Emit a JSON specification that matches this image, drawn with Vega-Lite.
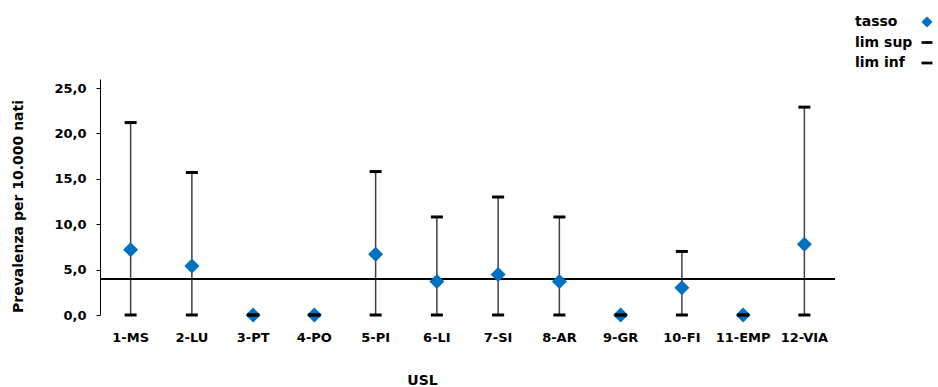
{
  "$schema": "https://vega.github.io/schema/vega-lite/v6.json",
  "width": 735,
  "height": 236,
  "autosize": {"type": "none"},
  "padding": {"left": 100, "top": 79, "right": 103, "bottom": 72},
  "background": "white",
  "config": {
    "view": {"stroke": null},
    "font": "DejaVu Sans",
    "axis": {"labelFont": "DejaVu Sans", "titleFont": "DejaVu Sans", "labelFontWeight": "bold", "titleFontWeight": "bold", "labelColor": "black", "titleColor": "black", "grid": false}
  },
  "data": {
    "values": [
      {"USL": "1-MS", "tasso": 7.2, "sup": 21.2, "inf": 0},
      {"USL": "2-LU", "tasso": 5.4, "sup": 15.7, "inf": 0},
      {"USL": "3-PT", "tasso": 0, "sup": 0, "inf": 0},
      {"USL": "4-PO", "tasso": 0, "sup": 0, "inf": 0},
      {"USL": "5-PI", "tasso": 6.7, "sup": 15.8, "inf": 0},
      {"USL": "6-LI", "tasso": 3.7, "sup": 10.8, "inf": 0},
      {"USL": "7-SI", "tasso": 4.45, "sup": 13.0, "inf": 0},
      {"USL": "8-AR", "tasso": 3.7, "sup": 10.8, "inf": 0},
      {"USL": "9-GR", "tasso": 0, "sup": 0, "inf": 0},
      {"USL": "10-FI", "tasso": 3.0, "sup": 7.0, "inf": 0},
      {"USL": "11-EMP", "tasso": 0, "sup": 0, "inf": 0},
      {"USL": "12-VIA", "tasso": 7.8, "sup": 22.9, "inf": 0}
    ]
  },
  "encoding": {
    "x": {
      "field": "USL", "type": "nominal", "sort": null,
      "scale": {"type": "band", "paddingInner": 0, "paddingOuter": 0},
      "axis": {
        "title": "USL", "labelAngle": 0, "domain": false, "ticks": false,
        "labelFontSize": 13, "labelPadding": 16, "titleFontSize": 14,
        "titleX": 322, "titleY": 65, "titleBaseline": "middle"
      }
    }
  },
  "layer": [
    {
      "mark": {"type": "rule", "color": "#404040", "strokeWidth": 1.5},
      "encoding": {
        "y": {"field": "inf", "type": "quantitative", "scale": {"domain": [0, 25]},
          "axis": {
            "title": "Prevalenza per 10.000 nati", "values": [0, 5, 10, 15, 20, 25],
            "labelExpr": "replace(format(datum.value, '.1f'), '.', ',')",
            "labelFontSize": 13, "titleFontSize": 14,
            "domainColor": "black", "domainWidth": 1, "tickColor": "black", "tickSize": 4, "labelPadding": 10,
            "titleX": -82, "titleY": 127, "titleAngle": -90, "titleAlign": "center", "titleBaseline": "middle"
          }},
        "y2": {"field": "sup"}
      }
    },
    {
      "mark": {"type": "rule", "color": "black", "strokeWidth": 1.2},
      "encoding": {"y": {"datum": 4.0, "type": "quantitative"}, "x": {"value": 0}, "x2": {"value": 735}}
    },
    {
      "mark": {"type": "point", "filled": true, "opacity": 1, "size": 225},
      "encoding": {
        "y": {"field": "tasso", "type": "quantitative"},
        "color": {"datum": "tasso"},
        "shape": {"datum": "tasso"}
      }
    },
    {
      "mark": {"type": "point", "filled": true, "opacity": 1, "size": 144},
      "encoding": {
        "y": {"field": "sup", "type": "quantitative"},
        "color": {"datum": "lim sup"},
        "shape": {"datum": "lim sup"}
      }
    },
    {
      "mark": {"type": "point", "filled": true, "opacity": 1, "size": 144},
      "encoding": {
        "y": {"field": "inf", "type": "quantitative"},
        "color": {"datum": "lim inf",
          "scale": {"domain": ["tasso", "lim sup", "lim inf"], "range": ["#0070C0", "black", "black"]},
          "legend": {
            "title": null, "orient": "none", "legendX": 820, "legendY": -64,
            "labelFontSize": 14, "labelFontWeight": "bold", "labelColor": "black", "labelFont": "DejaVu Sans",
            "labelAlign": "left", "labelOffset": -79, "symbolSize": 120, "rowPadding": 6.5, "symbolStrokeWidth": 0,
            "encode": {"symbols": {"update": {"fill": {"signal": "datum.value === 'tasso' ? '#4a7ebb' : 'black'"}}}}
          }
        },
        "shape": {"datum": "lim inf",
          "scale": {"domain": ["tasso", "lim sup", "lim inf"], "range": ["diamond", "M-1,-0.25H1V0.25H-1Z", "M-1,-0.25H1V0.25H-1Z"]},
          "legend": {
            "title": null, "orient": "none", "legendX": 820, "legendY": -64,
            "labelFontSize": 14, "labelFontWeight": "bold", "labelColor": "black", "labelFont": "DejaVu Sans",
            "labelAlign": "left", "labelOffset": -79, "symbolSize": 120, "rowPadding": 6.5, "symbolStrokeWidth": 0,
            "encode": {"symbols": {"update": {"fill": {"signal": "datum.value === 'tasso' ? '#4a7ebb' : 'black'"}}}}
          }
        }
      }
    }
  ]
}
